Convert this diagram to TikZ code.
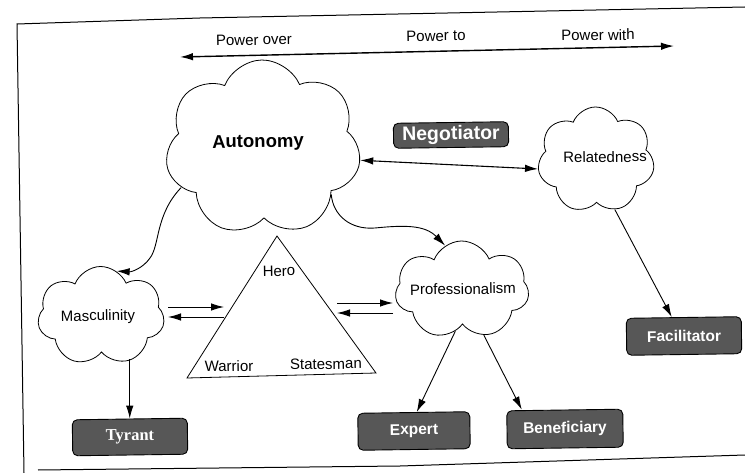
\documentclass[tikz,border=0pt]{standalone}
\usepackage{fontspec}
\setmainfont{Liberation Sans}
\newfontfamily\boxserif{Liberation Serif}
\usetikzlibrary{shapes.symbols,arrows.meta}
\begin{document}
\begin{tikzpicture}[x=1pt,y=-1pt,
  every node/.style={rotate=0.8},
  puff/.style={cloud, cloud puffs=7, cloud puff arc=135, cloud ignores aspect,
    draw, line width=0.8pt, inner sep=0pt},
  lbl/.style={font=\fontsize{15}{17}\selectfont, inner sep=0pt},
  rolebox/.style={draw=black, line width=0.9pt, fill=black!66, rounded corners=5pt,
    text=white, font=\bfseries\fontsize{15.5}{17}\selectfont,
    minimum width=115pt, minimum height=36pt, inner sep=0pt},
  tip/.style={-{Latex[length=13pt,width=7.5pt]}},
  arr/.style={line width=0.9pt, tip},
  darr/.style={line width=1.1pt, {Latex[length=13pt,width=7.5pt]}-{Latex[length=13pt,width=7.5pt]}},
  frame/.style={line width=1pt}
]
\useasboundingbox (0,0) rectangle (745,473);

% page frame
\draw[frame] (745,7) -- (200,18) -- (17,24) -- (24,473);
\draw[frame] (38,470) -- (400,466) -- (745,455);

% power scale
\coordinate (pl) at (180,57);
\coordinate (pr) at (674,46);
\draw[darr, line width=1.4pt] (pl) -- (pr);
\node[lbl] (pover) at (254,40) {Power over};
\node[lbl] (pto) at (436,36) {Power to};
\node[lbl] (pwith) at (598,35) {Power with};

% clouds
\node[puff, minimum width=196pt, minimum height=176pt] (auto) at (263,148) {};
\node[lbl, font=\bfseries\fontsize{18.5}{20}\selectfont] (autot) at (258,143) {Autonomy};
\node[puff, minimum width=127pt, minimum height=99pt] (masc) at (101,316) {};
\node[lbl] (masct) at (98,317) {Masculinity};
\node[puff, minimum width=134pt, minimum height=98pt] (prof) at (462,290) {};
\node[lbl] (proft) at (463,289) {Professionalism};
\node[puff, minimum width=117pt, minimum height=106pt] (rel) at (596,160) {};
\node[lbl] (relt) at (605,157) {Relatedness};

% role boxes
\node[rolebox, minimum height=25pt, font=\bfseries\fontsize{19.5}{21}\selectfont] (nego) at (451,135) {Negotiator};
\node[rolebox, font=\boxserif\bfseries\fontsize{16.5}{18}\selectfont] (tyrant) at (130,437) {Tyrant};
\node[rolebox, minimum width=112pt, minimum height=37pt] (expert) at (414,431) {Expert};
\node[rolebox, minimum width=116pt, minimum height=38pt] (benef) at (565,429) {Beneficiary};
\node[rolebox, minimum height=37pt] (facil) at (684,336) {Facilitator};

% hero triangle
\coordinate (apex) at (277,236);
\coordinate (tl) at (187,378);
\coordinate (tr) at (376,373);
\draw[line width=0.8pt] (apex) -- (tl) -- (tr) -- cycle;
\node[lbl] (hero) at (279,271) {Hero};
\node[lbl] (warrior) at (229,366) {Warrior};
\node[lbl] (statesman) at (326,364) {Statesman};

% ends of the short arrows beside the triangle
\coordinate (hl1) at (224,307);
\coordinate (hl2) at (224,317);
\coordinate (hr1) at (337,303);
\coordinate (hr2) at (337,313);
\coordinate (ml1) at (168,307);
\coordinate (ml2) at (168,317);
\coordinate (pl1) at (393,303);
\coordinate (pl2) at (393,313);

% connectors
\draw[darr] (auto.-8) -- (rel.188);
\draw[arr] (auto.205) .. controls (155,215) and (160,245) .. (150,258)
  .. controls (143,268) and (132,272) .. (masc.70);
\draw[arr] (auto.-35) .. controls (333,215) and (350,230) .. (375,228)
  .. controls (405,225) and (425,225) .. (prof.110);
\draw[arr] (tyrant.north |- masc.-55) -- (tyrant.north);
\draw[arr] (ml1) -- (hl1);
\draw[arr] (hl2) -- (ml2);
\draw[arr] (hr1) -- (pl1);
\draw[arr] (pl2) -- (hr2);
\draw[arr] (prof.-100) -- ([xshift=3pt]expert.north);
\draw[arr] (prof.-65) -- ([xshift=-43pt]benef.north);
\draw[arr] (rel.-70) -- ([xshift=-12pt]facil.north);
\end{tikzpicture}
\end{document}
